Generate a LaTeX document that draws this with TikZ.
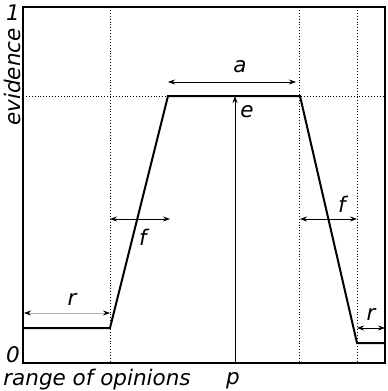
\documentclass[tikz,border=0pt]{standalone}
\usepackage{fontspec}
\setmainfont{DejaVu Sans}
\usetikzlibrary{arrows.meta}
\tikzset{
  lbl/.style={font=\fontsize{21.5}{24}\selectfont\itshape, inner sep=0pt},
  dim/.style={{Stealth[length=7pt,width=5pt,inset=2.5pt]}-{Stealth[length=7pt,width=5pt,inset=2.5pt]}, line width=0.8pt},
  guide/.style={dotted, line width=0.9pt},
  curve/.style={line width=2pt},
  frame/.style={line width=1.4pt}
}
\begin{document}
\begin{tikzpicture}[x=1pt,y=-1pt]
\useasboundingbox (0,0) rectangle (388,391);
% frame corners
\coordinate (tl) at (23,7);
\coordinate (tr) at (385,7);
\coordinate (bl) at (23,363);
\coordinate (br) at (385,363);
% guides
\coordinate (g1t) at (110,7); \coordinate (g1b) at (110,363);
\coordinate (g2t) at (299,7); \coordinate (g2b) at (299,363);
\coordinate (g3t) at (357,7); \coordinate (g3b) at (357,363);
\coordinate (hl) at (23,96); \coordinate (hr) at (385,96);
\draw[guide] (g1t) -- (g1b);
\draw[guide] (g2t) -- (g2b);
\draw[guide] (g3t) -- (g3b);
\draw[guide] (hl) -- (hr);
% curve
\coordinate (c0) at (23,328);
\coordinate (c1) at (110,328);
\coordinate (c2) at (168,96);
\coordinate (c3) at (300,96);
\coordinate (c4) at (357,343);
\coordinate (c5) at (385,343);
\draw[curve, line join=miter] (c0) -- (c1) -- (c2) -- (c3) -- (c4) -- (c5);
% frame
\draw[frame] (tl) -- (bl) -- (br) -- (tr) -- cycle;
% dimension arrows
\coordinate (ra1) at (24,313); \coordinate (ra2) at (110,313);
\draw[dim, draw=gray!60, {Stealth[length=7pt,width=5pt,inset=2.5pt,fill=black,color=black]}-{Stealth[length=7pt,width=5pt,inset=2.5pt,fill=black,color=black]}] (ra1) -- (ra2);
\coordinate (rb1) at (357,328); \coordinate (rb2) at (385,328);
\draw[dim] (rb1) -- (rb2);
\coordinate (a1) at (168,82); \coordinate (a2) at (296,82);
\draw[dim] (a1) -- (a2);
\coordinate (e1) at (235,363); \coordinate (e2) at (235,96);
\draw[line width=0.8pt, -{Stealth[length=7pt,width=5pt,inset=2.5pt]}] (e1) -- (e2);
\coordinate (f1) at (110,219); \coordinate (f2) at (170,219);
\draw[dim] (f1) -- (f2);
\coordinate (f3) at (300,219); \coordinate (f4) at (357,219);
\draw[dim] (f3) -- (f4);
% labels
\node[lbl] (one) at (13,13) {1};
\node[lbl] (zero) at (13,355) {0};
\node[lbl, rotate=90] (ev) at (12,77) {evidence};
\node[lbl] (roo) at (97,380) {range of opinions};
\node[lbl] (p) at (233,381) {p};
\node[lbl] (a) at (240,67) {a};
\node[lbl] (e) at (247,112) {e};
\node[lbl] (fl) at (143,237) {f};
\node[lbl] (fr) at (342,204) {f};
\node[lbl] (rl) at (72,299) {r};
\node[lbl] (rr) at (371,314) {r};
\end{tikzpicture}
\end{document}
